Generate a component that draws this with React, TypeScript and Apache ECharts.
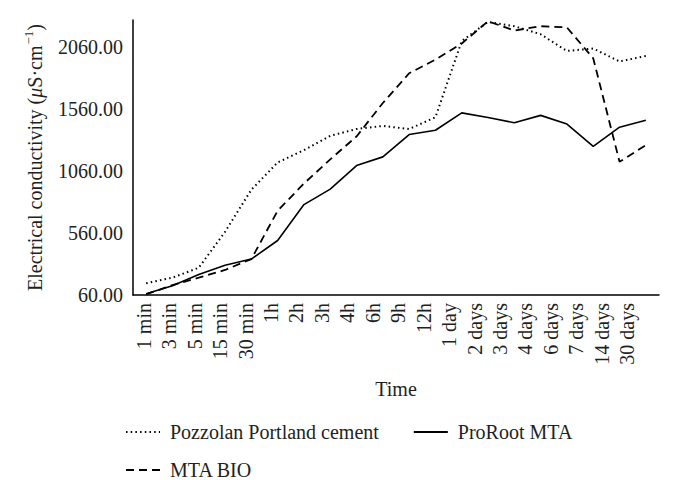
import { useEffect, useRef } from "react";
import * as echarts from "echarts";

const timeLabels = [
  "1 min", "3 min", "5 min", "15 min", "30 min", "1h", "2h", "3h", "4h", "6h",
  "9h", "12h", "1 day", "2 days", "3 days", "4 days", "6 days", "7 days", "14 days", "30 days",
];

const pozzolan = [155, 200, 280, 570, 910, 1130, 1230, 1345, 1400, 1425, 1400, 1495, 2110, 2265, 2230, 2165, 2030, 2050, 1945, 1990];
const proRoot = [70, 135, 225, 300, 350, 500, 790, 915, 1105, 1175, 1355, 1390, 1530, 1493, 1450, 1510, 1440, 1260, 1415, 1470];
const mtaBio = [65, 140, 200, 262, 350, 740, 960, 1155, 1340, 1610, 1850, 1960, 2090, 2270, 2195, 2230, 2220, 1970, 1135, 1270];

const yTicks = [60, 560, 1060, 1560, 2060];

const FONT = "'Liberation Serif', 'DejaVu Serif', serif";
const TXT = "#231f20";

export default function App() {
  const ref = useRef<HTMLDivElement>(null);
  useEffect(() => {
    if (!ref.current) return;
    const chart = echarts.init(ref.current, undefined, { renderer: "svg" });
    const axisLine = { show: true, lineStyle: { color: "#000", width: 1.5 } };
    const legendCommon = {
      left: 120,
      itemWidth: 34,
      itemHeight: 14,
      itemStyle: { opacity: 0 },
      lineStyle: { opacity: 1 },
      textStyle: { fontFamily: FONT, fontSize: 20, color: TXT, padding: [0, 0, 0, 5] },
    };
    const option: any = {
      animation: false,
      grid: [
        { left: 133, right: 15, top: 20, bottom: 185 },
        { left: 131, right: 34, top: 20, bottom: 185 },
      ],
      xAxis: [
        {
          type: "category",
          gridIndex: 0,
          data: timeLabels,
          boundaryGap: true,
          axisLine,
          axisTick: { show: false },
          axisLabel: { show: false },
          splitLine: { show: false },
          name: "Time",
          nameLocation: "middle",
          nameGap: 84,
          nameTextStyle: { fontFamily: FONT, fontSize: 20, color: TXT },
        },
        {
          type: "category",
          gridIndex: 1,
          data: timeLabels,
          boundaryGap: true,
          axisLine: { show: false },
          axisTick: { show: false },
          splitLine: { show: false },
          axisLabel: { rotate: 90, margin: 8, fontFamily: FONT, fontSize: 20, color: TXT, interval: 0 },
        },
      ],
      yAxis: [
        {
          type: "value",
          gridIndex: 0,
          min: 60,
          max: 2280,
          axisLine,
          axisTick: { show: false },
          splitLine: { show: false },
          axisLabel: {
            customValues: yTicks,
            formatter: (v: number) => v.toFixed(2),
            margin: 10,
            fontFamily: FONT,
            fontSize: 20,
            color: TXT,
          },
          name: "{a|Electrical conductivity (}{i|μ}{a|S·cm}{s|−1}{a|)}",
          nameLocation: "middle",
          nameGap: 86,
          nameRotate: 90,
          nameTextStyle: {
            fontFamily: FONT,
            fontSize: 20,
            color: TXT,
            rich: {
              a: { fontFamily: FONT, fontSize: 20, color: TXT },
              i: { fontFamily: FONT, fontSize: 20, color: TXT, fontStyle: "italic" },
              s: { fontFamily: FONT, fontSize: 13, color: TXT, padding: [0, 0, 12, 1] },
            },
          },
        },
        { type: "value", gridIndex: 1, show: false, min: 0, max: 1 },
      ],
      legend: [
        {
          ...legendCommon,
          data: ["Pozzolan Portland cement", "ProRoot MTA"],
          top: 417,
          itemGap: 34,
        },
        {
          ...legendCommon,
          data: ["MTA BIO"],
          top: 455,
        },
      ],
      series: [
        {
          name: "Pozzolan Portland cement",
          type: "line",
          xAxisIndex: 0,
          yAxisIndex: 0,
          data: pozzolan,
          symbol: "none",
          lineStyle: { color: "#000", width: 2, type: [1.5, 3.2] },
          itemStyle: { color: "#000" },
        },
        {
          name: "ProRoot MTA",
          type: "line",
          xAxisIndex: 0,
          yAxisIndex: 0,
          data: proRoot,
          symbol: "none",
          lineStyle: { color: "#000", width: 1.6, type: "solid" },
          itemStyle: { color: "#000" },
        },
        {
          name: "MTA BIO",
          type: "line",
          xAxisIndex: 0,
          yAxisIndex: 0,
          data: mtaBio,
          symbol: "none",
          lineStyle: { color: "#000", width: 1.8, type: [8, 5] },
          itemStyle: { color: "#000" },
        },
      ],
    };
    chart.setOption(option);
    return () => chart.dispose();
  }, []);
  return (
    <div
      ref={ref}
      style={{ position: "absolute", left: 0, top: 0, width: 674, height: 480, background: "#fff" }}
    />
  );
}
